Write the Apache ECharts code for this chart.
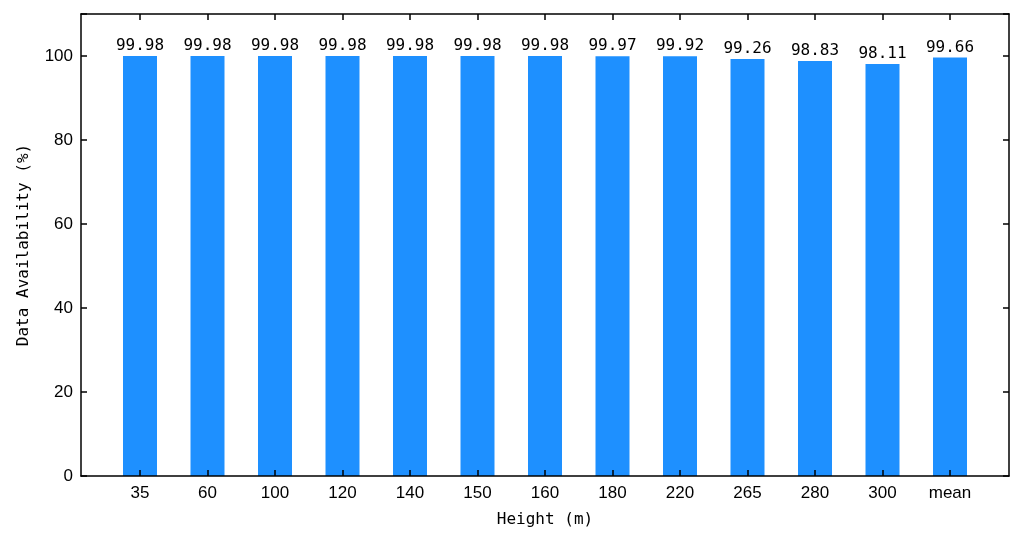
<!DOCTYPE html>
<html><head><meta charset="utf-8">
<script src="https://cdn.jsdelivr.net/npm/echarts@6/dist/echarts.min.js"></script>
<style>html,body{margin:0;padding:0;background:#fff}#c{width:1024px;height:543px}</style>
</head><body><div id="c"></div>
<script>
const categories = ['35','60','100','120','140','150','160','180','220','265','280','300','mean'];
const availability = [99.98,99.98,99.98,99.98,99.98,99.98,99.98,99.97,99.92,99.26,98.83,98.11,99.66];

const chart = echarts.init(document.getElementById('c'), null, {renderer:'canvas'});
const mono = '"DejaVu Sans Mono", monospace';
const sans = '"Liberation Sans", Arial, sans-serif';
const line = {color:'#000', width:1.5};
chart.setOption({
  animation:false,
  grid:[
    {left:81, right:15, top:14, bottom:67},
    {left:106.25, right:40.25, top:14, bottom:67}
  ],
  xAxis:[
    {gridIndex:0, type:'value', min:0, max:1, position:'bottom', z:10,
     axisLine:{show:true, onZero:false, lineStyle:line}, axisTick:{show:false}, axisLabel:{show:false}, splitLine:{show:false}},
    {gridIndex:0, type:'value', min:0, max:1, position:'top', z:10,
     axisLine:{show:true, onZero:false, lineStyle:line}, axisTick:{show:false}, axisLabel:{show:false}, splitLine:{show:false}},
    {gridIndex:1, type:'category', data:categories, position:'bottom', z:10,
     name:'Height (m)', nameLocation:'middle', nameGap:44,
     nameTextStyle:{fontFamily:mono, fontSize:16, color:'#000', verticalAlign:'middle'},
     axisLine:{show:false, onZero:false}, axisTick:{show:true, inside:true, length:6, alignWithLabel:true, lineStyle:line},
     axisLabel:{fontFamily:sans, fontSize:17, color:'#000', margin:9, interval:0}},
    {gridIndex:1, type:'category', data:categories, position:'top', z:10,
     axisLine:{show:false, onZero:false}, axisTick:{show:true, inside:true, length:6, alignWithLabel:true, lineStyle:line},
     axisLabel:{show:false}}
  ],
  yAxis:[
    {gridIndex:0, type:'value', min:0, max:110, interval:20, position:'left', z:10,
     name:'Data Availability (%)', nameLocation:'middle', nameGap:57, nameRotate:90,
     nameTextStyle:{fontFamily:mono, fontSize:16, color:'#000', verticalAlign:'middle'},
     axisLine:{show:true, onZero:false, lineStyle:line}, axisTick:{show:true, inside:true, length:6, lineStyle:line},
     axisLabel:{fontFamily:sans, fontSize:17, color:'#000', margin:8, formatter:v=>v>100?'':String(v)},
     splitLine:{show:false}},
    {gridIndex:0, type:'value', min:0, max:110, interval:20, position:'right', z:10,
     axisLine:{show:true, onZero:false, lineStyle:line}, axisTick:{show:true, inside:true, length:6, lineStyle:line},
     axisLabel:{show:false}, splitLine:{show:false}},
    {gridIndex:1, type:'value', min:0, max:110, show:false}
  ],
  series:[{
    type:'bar', xAxisIndex:2, yAxisIndex:2,
    data: availability,
    barWidth:34,
    itemStyle:{color:'#1E90FF'},
    label:{show:true, position:'top', distance:2, formatter:p=>p.value.toFixed(2), fontFamily:mono, fontSize:16, color:'#000'}
  }]
});
</script></body></html>
